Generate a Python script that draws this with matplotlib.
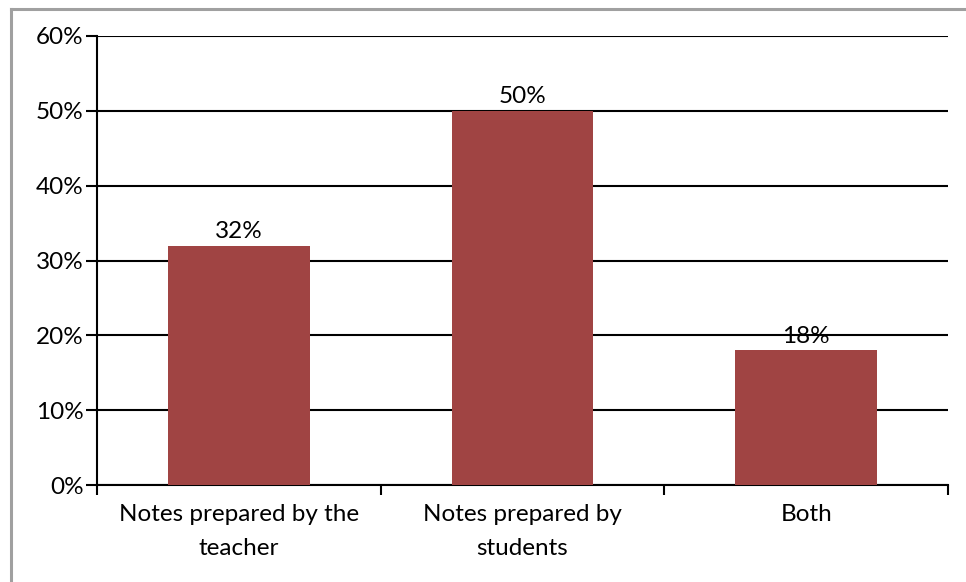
import numpy as np
import matplotlib.pyplot as plt
from matplotlib.lines import Line2D

plt.rcParams['font.family'] = ['Lato', 'DejaVu Sans']

categories = ['Notes prepared by the\nteacher', 'Notes prepared by\nstudents', 'Both']
values = [32, 50, 18]
bar_color = '#A04443'
fs = 17.5

fig = plt.figure(figsize=(9.66, 5.82), dpi=100)
W, H = 966, 582
ax = fig.add_axes([97 / W, 1 - 485 / H, (948 - 97) / W, (485 - 36) / H])

# outer chart frame: only top and left edges fall inside the image
frame = dict(transform=fig.transFigure, color='#A0A0A0', linewidth=2.2)
fig.lines.append(Line2D([11 / W, 1.0], [1 - 9 / H, 1 - 9 / H], **frame))
fig.lines.append(Line2D([11 / W, 11 / W], [0.0, 1 - 9 / H], **frame))

x = np.arange(len(categories))
ax.bar(x, values, width=0.5, color=bar_color, zorder=3)

for xi, v in zip(x, values):
    ax.text(xi, v + 0.45, f'{v}%', ha='center', va='bottom', fontsize=fs, zorder=4)

ax.set_xlim(-0.5, 2.5)
ax.set_ylim(0, 60)
ax.set_yticks(range(0, 61, 10))
ax.set_yticklabels([f'{t}%' for t in range(0, 61, 10)], fontsize=fs)
ax.yaxis.grid(True, color='black', linewidth=1.5, zorder=1)

# category labels at centres, tick marks at boundaries
ax.set_xticks([-0.5, 0.5, 1.5, 2.5])
ax.set_xticklabels([])
ax.tick_params(axis='x', direction='out', length=7, width=1.5, color='black')
ax.tick_params(axis='y', direction='out', length=8, width=1.5, color='black', pad=1.5)
for xi, c in zip(x, categories):
    ax.text(xi, -2.6, c, ha='center', va='top', fontsize=fs, linespacing=1.75)

for side in ['top', 'right']:
    ax.spines[side].set_visible(False)
ax.spines['left'].set_linewidth(1.5)
ax.spines['bottom'].set_linewidth(1.5)

fig.savefig('out.png', dpi=100)
